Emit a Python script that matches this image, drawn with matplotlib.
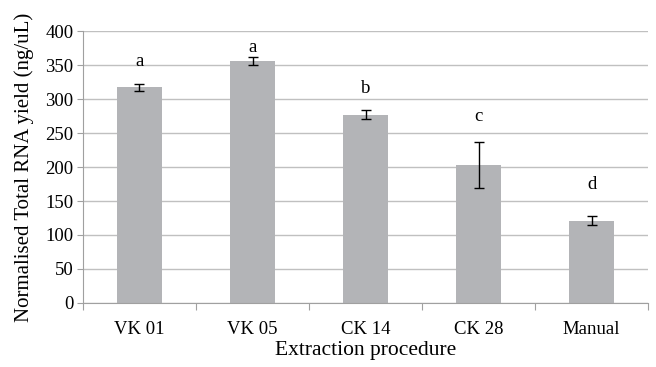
import matplotlib
matplotlib.use("Agg")
import matplotlib.pyplot as plt
import numpy as np

# data
procedures = ["VK 01", "VK 05", "CK 14", "CK 28", "Manual"]
rna_yield = [317, 356, 277, 203, 121]
yerr = [5.5, 6, 7, 34, 6.5]
letters = ["a", "a", "b", "c", "d"]
letter_y = [355, 376, 316, 275, 175]

plt.rcParams['font.family'] = ['Liberation Serif', 'DejaVu Serif']

fig = plt.figure(figsize=(6.56, 3.67), dpi=100)
ax = fig.add_axes([0.1265, 0.1744, 0.8615, 0.7411])

x = np.arange(len(procedures))
ax.bar(x, rna_yield, width=0.4, color="#b3b4b7", zorder=2)
ax.errorbar(x, rna_yield, yerr=yerr, fmt="none", ecolor="black",
            elinewidth=1, capsize=3.5, capthick=1, zorder=3)
for xi, lab, ly in zip(x, letters, letter_y):
    ax.text(xi, ly, lab, ha="center", va="center", fontsize=13.5)

ax.set_xlim(-0.5, len(procedures) - 0.5)
ax.set_ylim(0, 400)
ax.set_yticks(range(0, 401, 50))
ax.yaxis.grid(True, color="#c0c0c0", linewidth=1, zorder=0)
ax.set_axisbelow(True)

ax.set_xticks(np.arange(-0.5, len(procedures), 1))
ax.set_xticklabels([])
ax.set_xticks(x, minor=True)
ax.set_xticklabels(procedures, minor=True, fontsize=13.5)
ax.tick_params(axis="x", which="minor", length=0, pad=13)
ax.tick_params(axis="x", which="major", length=5, color="#a0a0a0")
ax.tick_params(axis="y", length=4, color="#a0a0a0", labelsize=13.5, pad=3)

for s in ["top", "right"]:
    ax.spines[s].set_visible(False)
for s in ["left", "bottom"]:
    ax.spines[s].set_color("#a0a0a0")

ax.set_xlabel("Extraction procedure", fontsize=15.5, labelpad=2)
ax.set_ylabel("Normalised Total RNA yield (ng/uL)", fontsize=15, labelpad=8)

fig.savefig("out.png", dpi=100)
